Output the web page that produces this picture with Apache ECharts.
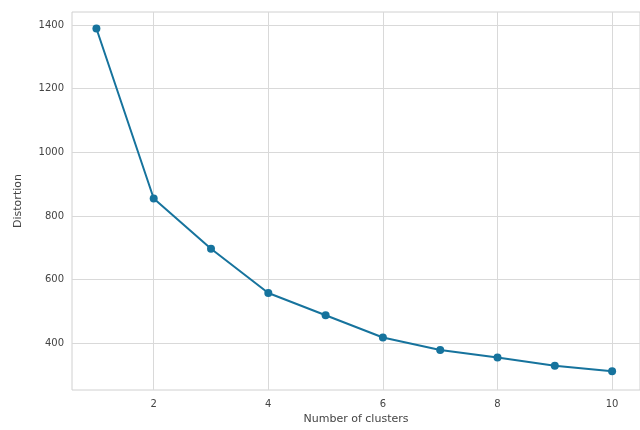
<!DOCTYPE html>
<html>
<head>
<meta charset="utf-8">
<script src="https://cdn.jsdelivr.net/npm/echarts@6/dist/echarts.min.js"></script>
<style>html,body{margin:0;padding:0;background:#fff}#c{width:640px;height:430px}</style>
</head>
<body>
<div id="c"></div>
<script>
const clusters = [1, 2, 3, 4, 5, 6, 7, 8, 9, 10];
const distortion = [1389, 855, 697, 558, 488, 418, 379, 355, 329, 312];
const xTicks = [2, 4, 6, 8, 10];
const yTicks = [400, 600, 800, 1000, 1200, 1400];

const chart = echarts.init(document.getElementById('c'), null, {renderer: 'canvas'});
const lineColor = '#16739d';
const gridColor = '#d9d9d9';
const font = 'DejaVu Sans';
chart.setOption({
  animation: false,
  backgroundColor: '#ffffff',
  grid: {left: 72, right: -2, top: 12, bottom: 38, show: true, borderColor: '#d0d0d0', borderWidth: 1, backgroundColor: '#ffffff'},
  xAxis: {
    type: 'value', min: 0.574, max: 10.487,
    name: 'Number of clusters', nameLocation: 'middle', nameGap: 24,
    nameTextStyle: {fontFamily: font, fontSize: 11, color: '#444'},
    axisLine: {show: false},
    axisTick: {show: false, customValues: xTicks},
    axisLabel: {customValues: xTicks, fontFamily: font, fontSize: 10, color: '#444', margin: 9, formatter: v => String(v)},
    splitLine: {show: true, lineStyle: {color: gridColor, width: 1}}
  },
  yAxis: {
    type: 'value', min: 253, max: 1441,
    name: 'Distortion', nameLocation: 'middle', nameGap: 48, nameRotate: 90,
    nameTextStyle: {fontFamily: font, fontSize: 11, color: '#444'},
    axisLine: {show: false},
    axisTick: {show: false, customValues: yTicks},
    axisLabel: {customValues: yTicks, fontFamily: font, fontSize: 10, color: '#444', margin: 8, formatter: v => String(v)},
    splitLine: {show: true, lineStyle: {color: gridColor, width: 1}}
  },
  series: [{
    type: 'line',
    data: clusters.map((c, i) => [c, distortion[i]]),
    symbol: 'circle', symbolSize: 8,
    lineStyle: {color: lineColor, width: 2},
    itemStyle: {color: lineColor},
    clip: false
  }]
});
</script>
</body>
</html>
